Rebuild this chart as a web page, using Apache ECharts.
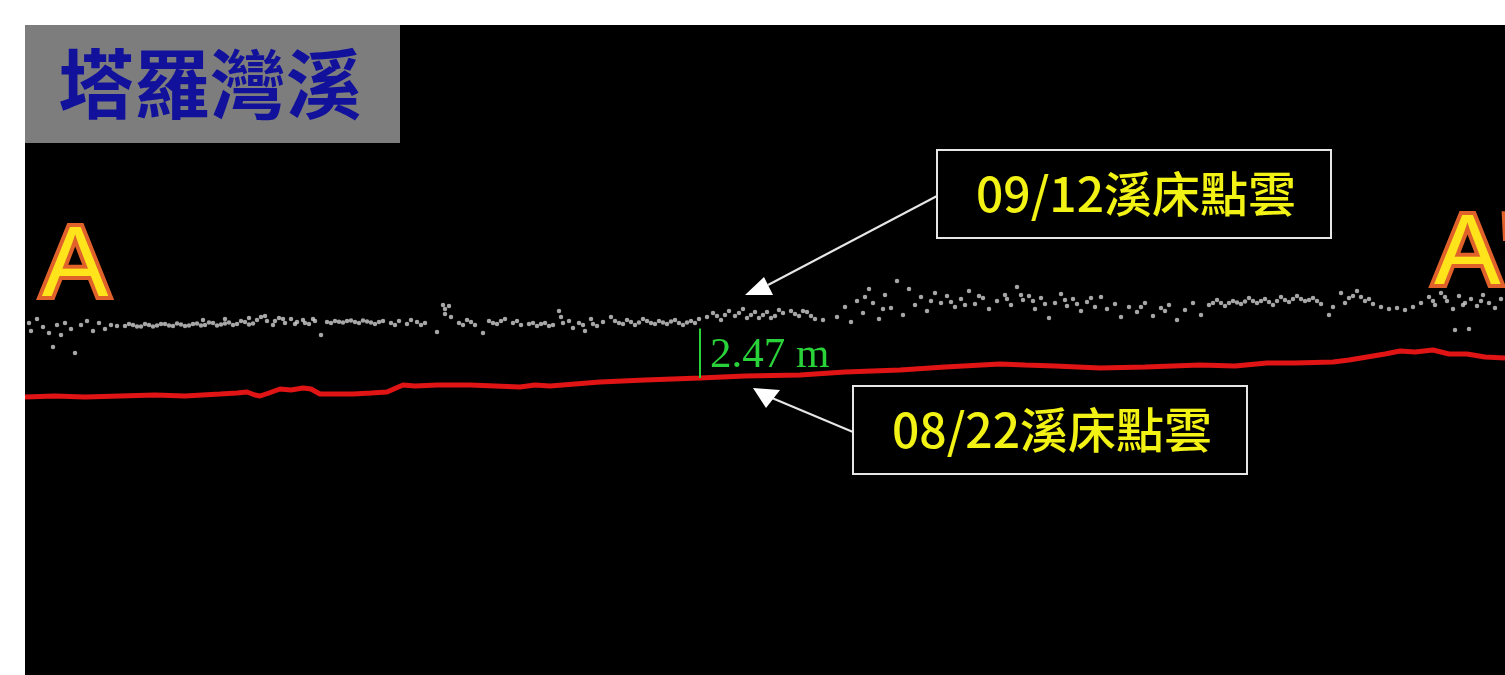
<!DOCTYPE html>
<html>
<head>
<meta charset="utf-8">
<script src="https://cdn.jsdelivr.net/npm/echarts@6/dist/echarts.min.js"></script>
<style>
  html, body { margin: 0; padding: 0; background: #fff; }
  #chart { width: 1505px; height: 675px; }
</style>
</head>
<body>
<div id="chart"></div>
<script>
// distance along section (m) / elevation (m)
const cloud0912 = [
  [0.2,17.6],[0.3,17.2],[0.6,17.8],[0.9,17.4],[1.2,17.1],[1.4,16.4],[1.6,17.5],[1.8,17.0],[2.0,17.6],[2.3,17.3],
  [2.5,16.1],[2.8,17.5],[3.1,17.7],[3.4,17.2],[3.7,17.6],[4.0,17.3],[4.3,17.5],[4.6,17.45],
  [5.0,17.45],[5.4,17.5],[5.8,17.42],[6.2,17.5],[6.6,17.47],[7.0,17.55],[7.4,17.45],[7.8,17.52],[8.2,17.48],
  [8.6,17.58],[9.0,17.5],[9.4,17.6],[9.8,17.52],[10.2,17.62],[10.6,17.55],[11.0,17.65],[11.4,17.58],
  [5.2,17.55],[5.6,17.42],[6.0,17.55],[6.4,17.43],[6.8,17.55],[7.2,17.48],[7.6,17.58],[8.0,17.45],[8.4,17.55],
  [8.8,17.48],[9.2,17.62],[9.6,17.48],[10.0,17.58],[10.4,17.5],[10.8,17.7],[11.2,17.52],
  [8.9,17.75],[10.0,17.8],[11.2,17.85],
  [11.8,17.9],[12.1,17.7],[12.4,17.5],[12.7,17.85],[13.0,17.6],[13.3,17.8],[13.6,17.65],[13.9,17.75],[14.2,17.55],
  [14.5,17.7],[14.8,17.0],[11.6,17.75],[12.0,17.95],[12.5,17.7],[12.9,17.8],[13.5,17.55],[14.0,17.6],[14.4,17.8],
  [15.1,17.65],[15.5,17.7],[15.9,17.62],[16.3,17.72],[16.7,17.6],[17.1,17.68],[17.5,17.55],[17.9,17.7],
  [15.3,17.6],[15.7,17.66],[16.1,17.7],[16.5,17.65],[16.9,17.72],[17.3,17.62],[17.7,17.65],
  [18.3,17.6],[18.7,17.7],[19.1,17.55],[19.6,17.65],[20.0,17.6],[20.6,17.15],[20.9,18.5],[21.0,18.3],[21.0,18.05],
  [21.2,18.45],[21.3,17.9],[18.5,17.5],[19.3,17.75],[19.8,17.5],
  [21.7,17.6],[22.1,17.75],[22.5,17.5],[22.9,17.1],[23.2,17.7],[23.6,17.55],[24.0,17.8],[24.4,17.6],[24.8,17.5],
  [21.9,17.5],[22.3,17.65],[23.4,17.6],[23.8,17.7],[24.6,17.7],
  [25.2,17.55],[25.6,17.45],[26.0,17.6],[26.4,17.5],[26.7,18.2],[26.8,17.9],[26.9,17.6],[27.4,17.35],[27.7,17.6],
  [28.0,17.2],[28.3,17.8],[28.6,17.45],[28.9,17.65],[25.4,17.6],[25.8,17.55],[26.2,17.45],[27.2,17.7],[27.9,17.5],
  [28.4,17.55],
  [29.3,17.9],[29.7,17.6],[30.1,17.75],[30.5,17.5],[30.9,17.8],[31.3,17.6],[31.7,17.7],[32.1,17.55],[32.5,17.75],
  [32.9,17.5],[33.3,17.7],[33.7,17.8],[29.5,17.7],[29.9,17.55],[30.3,17.65],[30.7,17.62],[31.1,17.7],[31.5,17.55],
  [31.9,17.62],[32.3,17.68],[32.7,17.6],[33.1,17.62],[33.5,17.6],
  [34.1,17.9],[34.4,18.1],[34.8,17.75],[35.2,18.2],[35.5,17.95],[35.9,18.3],[36.3,18.0],[36.7,17.85],[37.1,18.15],
  [37.5,17.95],[37.9,18.1],[34.6,17.95],[35.0,18.0],[35.7,18.1],[36.1,17.85],[36.5,18.15],[36.9,18.0],[37.3,17.85],
  [37.7,18.25],
  [38.3,18.2],[38.7,17.95],[39.1,18.15],[39.5,17.8],[39.9,17.75],[38.5,18.05],[38.9,18.2],[39.3,17.95],
  [40.6,17.9],[41.0,18.4],[41.3,17.65],[41.6,18.7],[41.9,18.1],[42.2,19.3],[42.4,18.6],[42.7,17.8],[43.0,19.0],
  [43.3,18.35],[43.6,19.7],[43.9,18.0],[42.0,18.9],[42.9,18.3],
  [44.2,19.3],[44.5,18.5],[44.8,18.9],[45.1,18.2],[45.5,19.1],[45.8,18.6],[46.1,18.95],[46.5,18.4],[46.8,18.8],
  [47.2,19.2],[47.5,18.55],[47.9,18.85],[48.2,18.3],[48.6,18.7],[45.3,18.7],[46.3,18.65],[47.0,18.5],[47.7,18.95],
  [49.0,19.0],[49.3,18.5],[49.6,19.4],[49.9,18.75],[50.2,18.95],[50.5,18.3],[50.8,18.85],[51.2,17.85],[51.5,18.6],
  [51.8,19.05],[52.1,18.45],[52.4,18.8],[52.8,18.2],[53.1,18.65],[53.5,18.4],[53.8,18.9],[49.1,18.8],[49.8,19.0],
  [50.4,18.7],[51.0,18.55],[52.0,18.75],[52.6,18.55],[53.3,18.85],
  [54.1,18.3],[54.5,18.55],[54.8,17.9],[55.2,18.4],[55.6,18.15],[56.0,18.6],[56.4,17.95],[56.8,18.35],[57.2,18.5],
  [57.6,17.75],[58.0,18.25],[58.4,18.6],[58.8,18.0],[55.8,18.4],[57.0,18.2],
  [59.2,18.5],[59.6,18.75],[60.0,18.45],[60.4,18.7],[60.8,18.55],[61.2,18.85],[61.6,18.6],[62.0,18.8],[62.4,18.5],
  [62.8,18.9],[63.2,18.65],[63.6,18.95],[64.0,18.7],[64.4,18.85],[64.8,18.55],[59.4,18.6],[59.8,18.6],[60.2,18.6],
  [60.6,18.62],[61.0,18.68],[61.4,18.7],[61.8,18.7],[62.2,18.65],[62.6,18.7],[63.0,18.75],[63.4,18.8],[63.8,18.8],
  [64.2,18.75],[64.6,18.7],
  [65.2,18.0],[65.4,18.4],[65.8,19.1],[66.2,18.85],[66.6,19.2],[67.0,18.7],[67.4,18.55],[67.8,18.4],[68.2,18.3],
  [68.6,18.35],[69.0,18.25],[69.4,18.4],[69.8,18.6],[66.0,18.6],[66.4,18.95],[66.8,18.9],[67.2,18.8],
  [70.2,18.9],[70.5,18.5],[70.8,19.1],[71.1,18.7],[71.4,18.3],[71.7,18.95],[72.0,18.6],[72.3,18.8],[72.6,18.45],
  [72.9,19.0],[73.2,18.6],[73.5,18.35],[71.5,17.25],[72.2,17.3],[70.4,18.7],[71.0,18.9],[71.9,18.5],[72.8,18.7],
  [73.8,18.8]
];

const bed0822 = [
  [0,13.9],[1.5,13.95],[3,13.9],[4.75,13.95],[6.5,14.0],[8,13.95],[9.75,14.05],[10.6,14.1],[11.1,14.15],[11.5,14.0],
  [11.75,13.95],[12.2,14.1],[12.75,14.3],[13.3,14.25],[13.9,14.35],[14.3,14.3],[14.75,14.05],[15.5,14.05],[16.4,14.05],
  [17.3,14.1],[18.1,14.15],[18.9,14.5],[19.5,14.45],[20.6,14.5],[21.4,14.5],[22.25,14.5],[23.5,14.45],[24.75,14.4],
  [25.5,14.5],[26.25,14.45],[27.5,14.55],[28.75,14.65],[31,14.75],[33.75,14.85],[36,14.95],[38.75,15.0],[41,15.15],
  [43.75,15.25],[46,15.4],[48.75,15.55],[50,15.5],[51.5,15.45],[53.75,15.35],[56,15.4],[58.75,15.5],[60.5,15.45],
  [62.1,15.6],[63.5,15.6],[65.4,15.65],[66.2,15.75],[67.1,15.9],[68,16.05],[68.75,16.2],[69.5,16.15],[70.4,16.25],
  [71.2,16.05],[72.1,16.05],[73,15.9],[74,15.85]
];

// measured difference at one station
const measureX = 33.75;
const measureBed = 14.85;
const measureDiff = 2.47;

const chart = echarts.init(document.getElementById('chart'));

chart.setOption({
  backgroundColor: '#fff',
  animation: false,
  grid: {
    left: 25, top: 25, right: 0, bottom: 0,
    show: true, backgroundColor: '#000', borderWidth: 0
  },
  xAxis: { type: 'value', min: 0, max: 74, show: false },
  yAxis: { type: 'value', min: 0, max: 32.5, show: false },
  series: [
    {
      name: '09/12溪床點雲',
      type: 'scatter',
      data: cloud0912,
      symbolSize: 4.5,
      itemStyle: { color: '#cfcfcf' }
    },
    {
      name: '08/22溪床點雲',
      type: 'line',
      data: bed0822,
      showSymbol: false,
      lineStyle: { color: '#e01414', width: 5 },
      markLine: {
        silent: true,
        symbol: 'none',
        lineStyle: { color: '#2ad23a', width: 2, type: 'solid' },
        label: { show: false },
        data: [[
          { coord: [measureX, measureBed] },
          { coord: [measureX, measureBed + measureDiff] }
        ]]
      }
    }
  ]
});

const p = chart.convertToPixel({ gridIndex: 0 }, [measureX, measureBed + measureDiff / 2]);

chart.setOption({
  graphic: [
    { type: 'rect', shape: { x: 25, y: 25, width: 375, height: 118 }, style: { fill: '#7d7d7d' } },
    {
      type: 'text', style: {
        x: 210, y: 84, text: '塔羅灣溪', textAlign: 'center', textVerticalAlign: 'middle',
        font: 'bold 76px "Noto Sans CJK TC"', fill: '#11119c'
      }
    },
    {
      type: 'text', style: {
        x: 75, y: 268, text: 'A', textAlign: 'center', textVerticalAlign: 'middle',
        font: '100px "Liberation Sans"', fill: '#ffe41c',
        stroke: '#e0622a', lineWidth: 8
      }
    },
    {
      type: 'text', style: {
        x: 1434, y: 256, text: "A'", textAlign: 'left', textVerticalAlign: 'middle',
        font: '100px "Liberation Sans"', fill: '#ffe41c',
        stroke: '#e0622a', lineWidth: 8
      }
    },
    {
      type: 'text', style: {
        x: p[0] + 10, y: p[1] + 2, text: measureDiff.toFixed(2) + ' m',
        textAlign: 'left', textVerticalAlign: 'middle',
        font: '43px "Liberation Serif"', fill: '#2ad23a'
      }
    },
    // 09/12 label
    { type: 'rect', shape: { x: 937, y: 150, width: 394, height: 88 }, style: { fill: '#000', stroke: '#e6e6e6', lineWidth: 2 } },
    {
      type: 'text', style: {
        x: 1136, y: 194, text: '09/12溪床點雲', textAlign: 'center', textVerticalAlign: 'middle',
        font: '500 48px "Noto Sans CJK TC"', fill: '#f2f215'
      }
    },
    { type: 'line', shape: { x1: 937, y1: 196, x2: 768, y2: 285 }, style: { stroke: '#e6e6e6', lineWidth: 2 } },
    { type: 'polygon', shape: { points: [[745, 295], [773, 295], [764, 277]] }, style: { fill: '#fff' } },
    // 08/22 label
    { type: 'rect', shape: { x: 853, y: 386, width: 394, height: 88 }, style: { fill: '#000', stroke: '#e6e6e6', lineWidth: 2 } },
    {
      type: 'text', style: {
        x: 1052, y: 430, text: '08/22溪床點雲', textAlign: 'center', textVerticalAlign: 'middle',
        font: '500 48px "Noto Sans CJK TC"', fill: '#f2f215'
      }
    },
    { type: 'line', shape: { x1: 853, y1: 432, x2: 772, y2: 398 }, style: { stroke: '#e6e6e6', lineWidth: 2 } },
    { type: 'polygon', shape: { points: [[753, 388], [780, 390], [766, 408]] }, style: { fill: '#fff' } }
  ]
});
</script>
</body>
</html>
